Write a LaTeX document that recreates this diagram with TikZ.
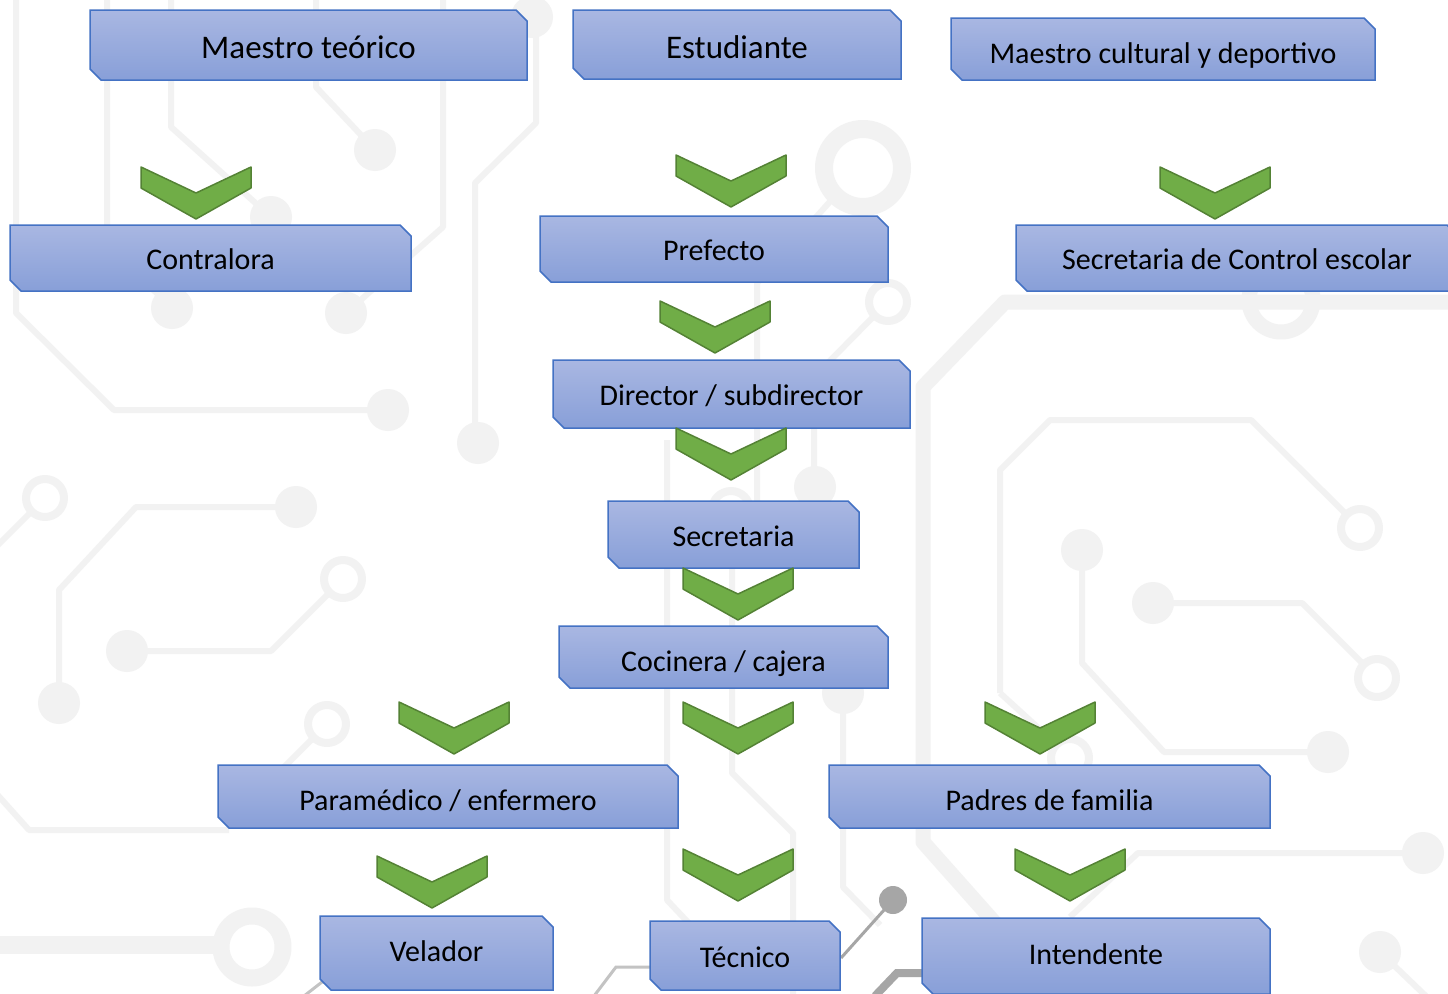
\documentclass[tikz,border=0pt]{standalone}
\usepackage{fontspec}
\setmainfont{Carlito}

\definecolor{gristraza}{RGB}{242,242,242}
\definecolor{grisoscuro}{RGB}{166,166,166}
\definecolor{grismedio}{RGB}{195,195,195}
\definecolor{cajaarriba}{RGB}{169,183,226}
\definecolor{cajaabajo}{RGB}{136,159,216}
\definecolor{bordecaja}{RGB}{68,114,196}
\definecolor{verde}{RGB}{112,173,71}
\definecolor{verdeosc}{RGB}{84,130,53}

\tikzset{
  traza/.style={draw=gristraza, line width=6pt, line join=round},
  trazagruesa/.style={traza, line width=15pt},
  caja/.style={draw=bordecaja, line width=1.5pt, top color=cajaarriba, bottom color=cajaabajo},
  rotulo/.style={font=\fontsize{30}{36}\selectfont, text height=19pt, text depth=0pt, inner sep=0pt},
  grande/.style={font=\fontsize{33}{40}\selectfont},
  flecha/.pic={
    \filldraw[fill=verde, draw=verdeosc, line width=1.5pt, line join=round]
      (-55,0) -- (0,26) -- (55,0) -- (55,21) -- (0,52) -- (-55,21) -- cycle;
  },
}

% caja con esquinas recortadas: [estilo]{nombre}{x1}{y1}{x2}{y2}{texto}
\newcommand\puesto[7][]{%
  \draw[caja] (#3,#4) -- ({#5-11},#4) -- (#5,{#4+11}) -- (#5,#6)
    -- ({#3+11},#6) -- (#3,{#6-11}) -- cycle;
  \node[rotulo,#1] (#2) at ({(#3+#5)/2},{(#4+#6)/2+2}) {#7};
}

\begin{document}
\begin{tikzpicture}[x=1pt,y=-1pt]
  \useasboundingbox (0,0) rectangle (1448,993);
  \clip (0,0) rectangle (1448,993);
  \fill[white] (0,0) rectangle (1448,993);

  % fondo de circuito
  \draw[traza] (16,-5) -- (16,313) -- (114,410) -- (388,410);
  \draw[traza] (107,-5) -- (107,245) -- (172,308);
  \draw[traza] (171,-5) -- (171,127) -- (271,217);
  \draw[traza] (316,-5) -- (316,87) -- (375,150);
  \draw[traza] (443,-5) -- (443,227) -- (346,313);
  \draw[traza] (536,17) -- (536,123) -- (475,183) -- (475,443);
  \draw[traza] (835,196) -- (757,283) -- (757,520);
  \draw[traza] (874,316) -- (814,377) -- (814,487);
  \draw[traza] (1000,693) -- (1000,470) -- (1050,420) -- (1251,420) -- (1346,514);
  \draw[traza] (1000,693) -- (1056,744);
  \draw[traza] (1082,550) -- (1082,663) -- (1164,752) -- (1328,752);
  \draw[traza] (1153,603) -- (1302,603) -- (1364,665);
  \draw[traza] (1423,853) -- (1138,853) -- (1070,917);
  \draw[traza] (1380,952) -- (1430,1000);
  \draw[traza] (31,512) -- (-5,548);
  \draw[traza] (296,507) -- (136,507) -- (59,590) -- (59,703);
  \draw[traza] (127,651) -- (271,651) -- (329,593);
  \draw[traza] (313,738) -- (270,781);
  \draw[traza] (-5,792) -- (29,830) -- (229,830);
  \draw[traza] (667,440) -- (667,900) -- (700,935);
  \draw[traza] (732,515) -- (732,773) -- (793,833) -- (793,1000);
  \draw[traza] (843,693) -- (843,887) -- (880,925);
  \draw[trazagruesa] (1460,302) -- (1005,302) -- (923,387) -- (923,842) -- (1010,940);
  \draw[trazagruesa, line width=18pt] (-5,945) -- (215,945);
  \foreach \x/\y in {388/410,172/308,271/217,375/150,346/313,532/17,478/443,
      815/487,1082/550,1328/752,1153/603,1423/853,1380/952,296/507,59/703,
      127/651,843/693}
    \fill[gristraza] (\x,\y) circle[radius=21];
  \foreach \x/\y in {888/302,1360/528,1070/758,1377/678,45/498,343/579,327/724,731/510}
    \draw[traza, line width=8pt] (\x,\y) circle[radius=19];
  \draw[traza, line width=18pt] (863,168) circle[radius=39];
  \draw[traza, line width=15pt] (1281,300) circle[radius=32];
  \draw[traza, line width=17pt] (252,947) circle[radius=31];

  % trazas grises al pie
  \draw[grismedio, line width=3pt] (304,996) -- (322,982) -- (330,982);
  \draw[grismedio, line width=3pt] (594,996) -- (616,967) -- (650,967);
  \draw[grisoscuro, line width=3pt] (841,958) -- (893,900);
  \fill[grisoscuro] (893,900) circle[radius=14];
  \draw[grisoscuro, line width=8pt] (875,996) -- (897,973) -- (925,973);

  % puestos
  \puesto[grande,yshift=-2pt]{maestro}{90}{10}{527}{80}{Maestro teórico}
  \puesto[grande,yshift=-2pt]{estudiante}{573}{10}{901}{79}{Estudiante}
  \puesto[yshift=-3pt]{cultural}{951}{18}{1375}{80}{Maestro cultural y deportivo}
  \puesto{contralora}{10}{225}{411}{291}{Contralora}
  \puesto{prefecto}{540}{216}{888}{282}{Prefecto}
  \puesto{control}{1016}{225}{1458}{291}{Secretaria de Control escolar}
  \puesto{director}{553}{360}{910}{428}{Director / subdirector}
  \puesto{secretaria}{608}{501}{859}{568}{Secretaria}
  \puesto[yshift=-3pt]{cocinera}{559}{626}{888}{688}{Cocinera / cajera}
  \puesto[yshift=-2pt]{paramedico}{218}{765}{678}{828}{Paramédico / enfermero}
  \puesto[yshift=-2pt]{padres}{829}{765}{1270}{828}{Padres de familia}
  \puesto[yshift=3pt]{velador}{320}{916}{553}{990}{Velador}
  \puesto{tecnico}{650}{921}{840}{990}{Técnico}
  \puesto[yshift=3pt]{intendente}{922}{918}{1270}{994}{Intendente}

  % flechas
  \foreach \x/\y in {196/167,731/155,1215/167,715/301,731/428,738/568,
      454/702,738/702,1040/702,432/856,738/849,1070/849}
    \pic at (\x,\y) {flecha};
\end{tikzpicture}
\end{document}
